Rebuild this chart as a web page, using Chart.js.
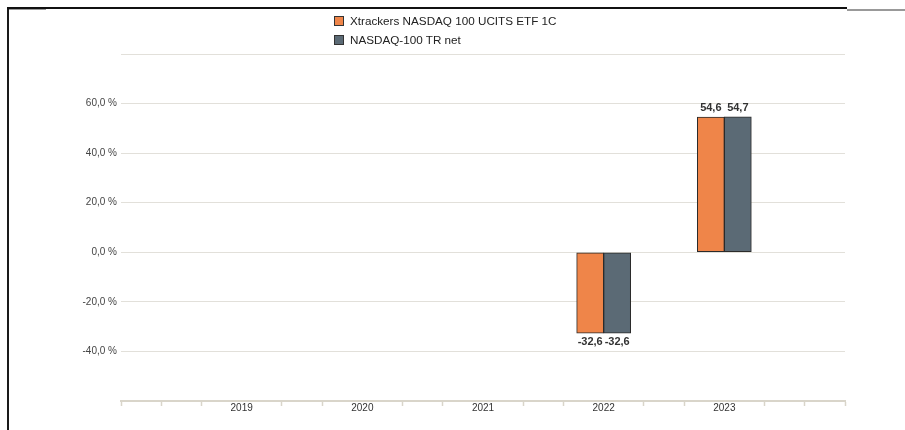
<!DOCTYPE html>
<html>
<head>
<meta charset="utf-8">
<script src="https://cdn.jsdelivr.net/npm/chart.js@4/dist/chart.umd.min.js"></script>
<style>
  html, body { margin: 0; padding: 0; background: #fff; }
  #wrap { position: relative; width: 905px; height: 430px; overflow: hidden; }
  #chart { position: absolute; left: 0; top: 0; }
  .line { position: absolute; }
  #legend { position: absolute; left: 334px; top: 11px; font: 11.7px "Liberation Sans", Arial, sans-serif; color: #222; }
  #legend .row { height: 19px; display: flex; align-items: center; white-space: nowrap; }
  #legend .box { width: 8px; height: 8px; border: 1px solid #333; margin-right: 6px; }
</style>
</head>
<body>
<div id="wrap">
  <canvas id="chart" width="905" height="430"></canvas>
  <div id="legend"></div>
  <div class="line" style="left:7px;top:7px;width:2px;height:423px;background:#1a1a1a"></div>
  <div class="line" style="left:7px;top:7px;width:840px;height:2px;background:#111"></div>
  <div class="line" style="left:9px;top:9px;width:37px;height:1px;background:#999"></div>
  <div class="line" style="left:847px;top:9px;width:58px;height:2px;background:#999"></div>
</div>
<script>
// values
const years = [2022, 2023];
const etfReturns = [-32.6, 54.6];
const indexReturns = [-32.6, 54.7];
const yearLabels = [2019, 2020, 2021, 2022, 2023];
const seriesNames = ['Xtrackers NASDAQ 100 UCITS ETF 1C', 'NASDAQ-100 TR net'];
const seriesColors = ['#EF8549', '#5B6A75'];

Chart.defaults.font.family = '"Liberation Sans", Arial, sans-serif';

function fmt(v) { return v.toFixed(1).replace('.', ','); }
function isYearTick(v) {
    const r = Math.round(v);
    return Math.abs(v - r) < 1e-6 && yearLabels.includes(r);
}

const valueLabels = {
    id: 'valueLabels',
    afterDatasetsDraw(chart) {
        const ctx = chart.ctx;
        ctx.save();
        ctx.font = 'bold 11px "Liberation Sans", Arial, sans-serif';
        ctx.fillStyle = '#333';
        ctx.textAlign = 'center';
        ctx.textBaseline = 'middle';
        chart.data.datasets.forEach((ds, di) => {
            chart.getDatasetMeta(di).data.forEach((bar, i) => {
                const v = ds.data[i].y;
                const y = v >= 0 ? bar.y - 9 : bar.y + 9;
                ctx.fillText(fmt(v), bar.x, y);
            });
        });
        ctx.restore();
    }
};

const makeData = vals => years.map((yr, i) => ({ x: yr, y: vals[i] }));

const chart = new Chart(document.getElementById('chart'), {
    type: 'bar',
    data: {
        datasets: [
            { label: seriesNames[0], data: makeData(etfReturns), backgroundColor: seriesColors[0] },
            { label: seriesNames[1], data: makeData(indexReturns), backgroundColor: seriesColors[1] }
        ]
    },
    options: {
        responsive: false,
        animation: false,
        layout: { padding: { top: 54, right: 60, left: 0, bottom: 0 } },
        datasets: {
            bar: { barThickness: 27, borderColor: '#2b2b2b', borderWidth: 1, borderSkipped: false }
        },
        plugins: { legend: { display: false }, tooltip: { enabled: false } },
        scales: {
            x: {
                type: 'linear',
                min: 2018,
                max: 2024,
                offset: false,
                afterBuildTicks: s => {
                    const t = [];
                    for (let k = 0; k <= 18; k++) t.push({ value: 2018 + k / 3 });
                    s.ticks = t;
                },
                afterFit: s => { s.height = 29; },
                ticks: {
                    autoSkip: false,
                    maxRotation: 0,
                    padding: -4,
                    color: '#333',
                    font: { size: 10 },
                    callback: v => isYearTick(v) ? String(Math.round(v)) : ''
                },
                grid: {
                    offset: false,
                    drawOnChartArea: false,
                    tickLength: 5,
                    tickWidth: 1.5,
                    tickColor: c => (c.tick && isYearTick(c.tick.value)) ? 'rgba(0,0,0,0)' : '#d9d5ca'
                },
                border: { color: '#d9d5ca', width: 2 }
            },
            y: {
                min: -60,
                max: 80,
                afterFit: s => { s.width = 121; },
                ticks: {
                    stepSize: 20,
                    padding: 4,
                    color: '#444',
                    font: { size: 10 },
                    callback: v => (v >= -40 && v <= 60) ? fmt(v) + ' %' : ''
                },
                grid: { color: '#e2e0da', drawTicks: false },
                border: { display: false }
            }
        }
    },
    plugins: [valueLabels]
});

// legend rows, one per series, left aligned like the reference
const legend = document.getElementById('legend');
chart.data.datasets.forEach(ds => {
    const row = document.createElement('div');
    row.className = 'row';
    const box = document.createElement('span');
    box.className = 'box';
    box.style.background = ds.backgroundColor;
    const txt = document.createElement('span');
    txt.textContent = ds.label;
    row.appendChild(box);
    row.appendChild(txt);
    legend.appendChild(row);
});
</script>
</body>
</html>
